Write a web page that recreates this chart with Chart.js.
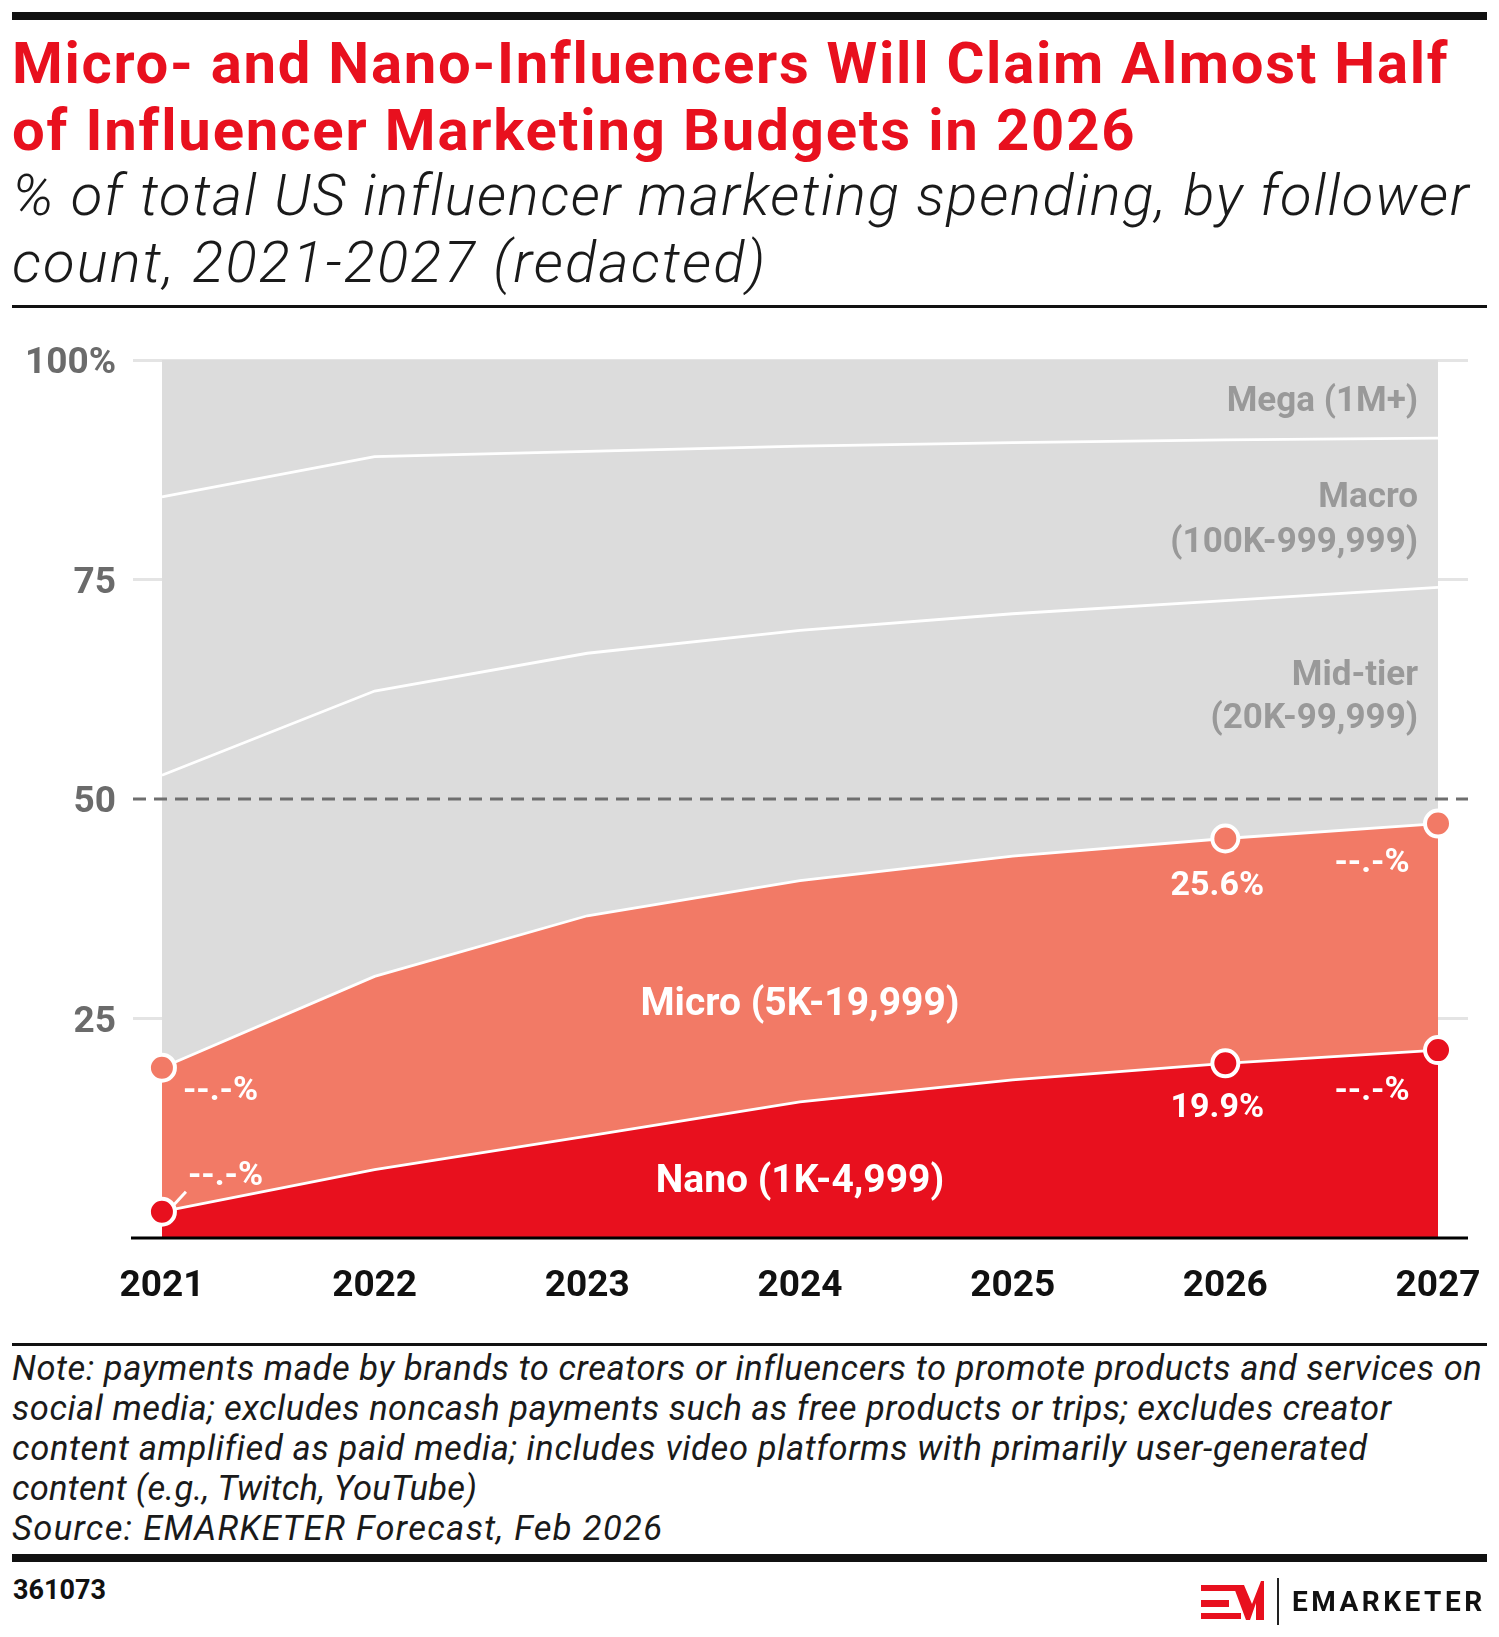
<!DOCTYPE html>
<html>
<head>
<meta charset="utf-8">
<script src="https://cdn.jsdelivr.net/npm/chart.js@4.4.1/dist/chart.umd.min.js"></script>
<style>
  html, body { margin: 0; padding: 0; background: #fff; }
  body { position: relative; width: 1499px; height: 1637px; overflow: hidden; font-family: Roboto, "Noto Sans", sans-serif; }
  .rule { position: absolute; left: 12px; width: 1475px; background: #111; }
  .line { position: absolute; left: 12px; white-space: nowrap; }
  .line span { display: inline-block; }
  .title { font-weight: 700; color: #e8101e; font-size: 58px; line-height: 58px; }
  .sub { font-weight: 300; font-style: italic; color: #1a1a1a; font-size: 58px; line-height: 58px; }
  .note { font-style: italic; color: #1a1a1a; font-size: 34.5px; line-height: 34.5px; }
  #chartBox { position: absolute; left: 0; top: 320px; }
  #code { position: absolute; left: 13px; top: 1577px; font-weight: 700; font-size: 27px; line-height: 27px; color: #111; }
  #brand { position: absolute; left: 1292px; top: 1588px; font-weight: 700; font-size: 28px; line-height: 28px; letter-spacing: 3.5px; color: #111; }
</style>
</head>
<body>
<div class="rule" style="top:12px;height:8px;"></div>

<div class="line title" data-base="83" data-w="1435"><span>Micro- and Nano-Influencers Will Claim Almost Half</span></div>
<div class="line title" data-base="150" data-w="1122"><span>of Influencer Marketing Budgets in 2026</span></div>
<div class="line sub" data-base="215" data-w="1456"><span>% of total US influencer marketing spending, by follower</span></div>
<div class="line sub" data-base="282" data-w="753"><span>count, 2021-2027 (redacted)</span></div>

<div class="rule" style="top:305px;height:3px;"></div>

<div id="chartBox"><canvas id="chart" width="1499" height="1010"></canvas></div>

<div class="rule" style="top:1343px;height:3px;"></div>

<div class="line note" data-base="1380" data-w="1469"><span>Note: payments made by brands to creators or influencers to promote products and services on</span></div>
<div class="line note" data-base="1420" data-w="1379"><span>social media; excludes noncash payments such as free products or trips; excludes creator</span></div>
<div class="line note" data-base="1460" data-w="1354"><span>content amplified as paid media; includes video platforms with primarily user-generated</span></div>
<div class="line note" data-base="1500" data-w="465"><span>content (e.g., Twitch, YouTube)</span></div>
<div class="line note" data-base="1540" data-w="650"><span>Source: EMARKETER Forecast, Feb 2026</span></div>

<div class="rule" style="top:1554px;height:8px;"></div>

<div id="code">361073</div>
<svg style="position:absolute;left:0;top:0;" width="1499" height="1637">
  <g fill="#e8101e">
    <rect x="1201" y="1585" width="36" height="6"/>
    <rect x="1201" y="1600" width="28" height="7"/>
    <rect x="1201" y="1613" width="40" height="6"/>
    <polygon points="1233,1585 1244,1585 1252,1604 1261,1581 1264,1581 1264,1620 1256,1620 1256,1603 1250,1620 1246,1620"/>
  </g>
  <rect x="1277" y="1578" width="2" height="47" fill="#222"/>
</svg>
<div id="brand">EMARKETER</div>

<script>
// share of spending by follower tier, % of total
const years = [2021, 2022, 2023, 2024, 2025, 2026, 2027];
const nano = [3.0, 7.8, 11.6, 15.5, 18.0, 19.9, 21.4];
const micro = [16.4, 22.0, 25.1, 25.2, 25.5, 25.6, 25.8];
const midTier = [33.3, 32.5, 29.9, 28.5, 27.6, 27.1, 26.9];
const macro = [31.7, 26.7, 23.0, 21.0, 19.5, 18.3, 17.0];
const mega = [15.6, 11.0, 10.4, 9.8, 9.4, 9.1, 8.9];

const yTicks = [0, 25, 50, 75, 100];
const yTickLabels = ['', '25', '50', '75', '100%'];
const seriesNames = ['Nano (1K-4,999)', 'Micro (5K-19,999)', 'Mid-tier (20K-99,999)', 'Macro (100K-999,999)', 'Mega (1M+)'];
const nanoPointLabels = ['--.-%', null, null, null, null, '19.9%', '--.-%'];
const microPointLabels = ['--.-%', null, null, null, null, '25.6%', '--.-%'];
const markedYears = [2021, 2026, 2027];

// place header / note lines on their baselines and stretch to the reference width
document.querySelectorAll('.line').forEach(el => {
  const size = parseFloat(getComputedStyle(el).fontSize);
  el.style.top = (Number(el.dataset.base) - 0.842 * size) + 'px';
  const span = el.querySelector('span');
  const w = span.getBoundingClientRect().width;
  const n = span.textContent.length - 1;
  span.style.letterSpacing = ((Number(el.dataset.w) - w) / n) + 'px';
});

const NANO_RED = '#e8101e';
const MICRO_SALMON = '#f27a66';
const GREY = '#dcdcdc';

const pts = arr => years.map((yr, i) => ({ x: yr, y: arr[i] }));
const markRadius = years.map(yr => markedYears.includes(yr) ? 13 : 0);

function tier(label, values, color, line) {
  return {
    label,
    data: pts(values),
    backgroundColor: color,
    borderColor: '#fff',
    borderWidth: line ? 2.8 : 0,
    fill: '-1',
    pointRadius: 0,
    tension: 0
  };
}

const datasets = [
  Object.assign(tier(seriesNames[0], nano, NANO_RED, true), {
    fill: 'origin', pointRadius: markRadius, pointBackgroundColor: NANO_RED,
    pointBorderColor: '#fff', pointBorderWidth: 4
  }),
  Object.assign(tier(seriesNames[1], micro, MICRO_SALMON, true), {
    pointRadius: markRadius, pointBackgroundColor: MICRO_SALMON,
    pointBorderColor: '#fff', pointBorderWidth: 4
  }),
  tier(seriesNames[2], midTier, GREY, true),
  tier(seriesNames[3], macro, GREY, true),
  tier(seriesNames[4], mega, GREY, false)
];

// where the value labels sit relative to their marker
const labelOffsets = {
  2021: [{ align: 'left', dx: 26, dy: -27, leader: true }, { align: 'left', dx: 21, dy: 32 }],
  2026: [{ align: 'center', dx: -8, dy: 54 }, { align: 'center', dx: -8, dy: 56 }],
  2027: [{ align: 'center', dx: -66, dy: 50 }, { align: 'center', dx: -66, dy: 48 }]
};

const overlay = {
  id: 'overlay',
  afterDatasetsDraw(chart) {
    const { ctx, chartArea: a, scales: { x, y } } = chart;
    ctx.save();

    // 50% reference line
    ctx.strokeStyle = '#6e6e6e';
    ctx.lineWidth = 3;
    ctx.setLineDash([13, 8]);
    ctx.beginPath();
    ctx.moveTo(a.left, y.getPixelForValue(50));
    ctx.lineTo(a.right, y.getPixelForValue(50));
    ctx.stroke();
    ctx.setLineDash([]);

    // baseline
    ctx.strokeStyle = '#000';
    ctx.lineWidth = 3;
    ctx.beginPath();
    ctx.moveTo(a.left - 2, y.getPixelForValue(0));
    ctx.lineTo(a.right, y.getPixelForValue(0));
    ctx.stroke();

    // value labels on the marked points
    ctx.fillStyle = '#fff';
    ctx.font = '700 34px Roboto';
    ctx.textBaseline = 'alphabetic';
    [nanoPointLabels, microPointLabels].forEach((labels, di) => {
      const meta = chart.getDatasetMeta(di);
      labels.forEach((txt, i) => {
        if (!txt) return;
        const p = meta.data[i];
        const o = labelOffsets[years[i]][di];
        ctx.textAlign = o.align;
        ctx.fillText(txt, p.x + o.dx, p.y + o.dy);
        if (o.leader) {
          ctx.strokeStyle = '#fff';
          ctx.lineWidth = 3;
          ctx.beginPath();
          ctx.moveTo(p.x + 12, p.y - 7);
          ctx.lineTo(p.x + 24, p.y - 20);
          ctx.stroke();
        }
      });
    });

    // tier names inside the red areas
    ctx.font = '700 39px Roboto';
    ctx.textAlign = 'center';
    ctx.fillText(seriesNames[1], x.getPixelForValue(2024), 1015 - 320);
    ctx.fillText(seriesNames[0], x.getPixelForValue(2024), 1192 - 320);

    // tier names in the grey areas, right aligned
    ctx.fillStyle = '#999';
    ctx.font = '700 35px Roboto';
    ctx.textAlign = 'right';
    const rx = x.getPixelForValue(2027) - 20;
    ctx.fillText(seriesNames[4], rx, 411 - 320);
    ctx.fillText('Macro', rx, 507 - 320);
    ctx.fillText('(100K-999,999)', rx, 552 - 320);
    ctx.fillText('Mid-tier', rx, 685 - 320);
    ctx.fillText('(20K-99,999)', rx, 728 - 320);

    ctx.restore();
  }
};

new Chart(document.getElementById('chart'), {
  type: 'line',
  data: { datasets },
  options: {
    responsive: false,
    animation: false,
    devicePixelRatio: 1,
    layout: { padding: { top: 40, right: 31, left: 0, bottom: 0 } },
    plugins: { legend: { display: false }, tooltip: { enabled: false } },
    scales: {
      x: {
        type: 'linear',
        min: 2020.864,
        max: 2027.141,
        afterBuildTicks: axis => { axis.ticks = years.map(v => ({ value: v })); },
        afterFit: axis => { axis.height = 92; axis.paddingLeft = 0; axis.paddingRight = 0; },
        grid: { display: false },
        border: { display: false },
        ticks: {
          autoSkip: false,
          maxRotation: 0,
          padding: 19,
          color: '#111',
          font: { family: 'Roboto', size: 37, weight: '700' },
          callback: v => String(v)
        }
      },
      y: {
        stacked: true,
        min: 0,
        max: 100,
        afterBuildTicks: axis => { axis.ticks = yTicks.map(v => ({ value: v })); },
        afterFit: axis => { axis.width = 133; axis.paddingTop = 0; axis.paddingBottom = 0; },
        border: { display: false },
        grid: {
          drawTicks: false,
          lineWidth: 3,
          color: c => (c.tick && (c.tick.value === 0 || c.tick.value === 50)) ? 'rgba(0,0,0,0)' : '#e4e4e4'
        },
        ticks: {
          padding: 17,
          labelOffset: 4,
          color: '#6b6b6b',
          font: { family: 'Roboto', size: 37, weight: '700' },
          callback: v => yTickLabels[yTicks.indexOf(v)]
        }
      }
    }
  },
  plugins: [overlay]
});
</script>
</body>
</html>
